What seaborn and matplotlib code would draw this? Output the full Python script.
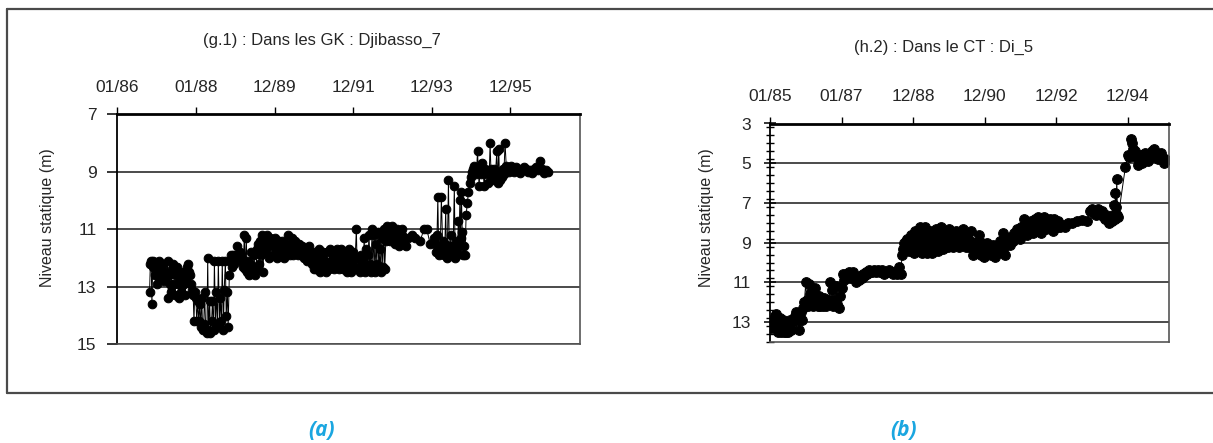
import numpy as np
import pandas as pd
import matplotlib
matplotlib.use("Agg")
import matplotlib.pyplot as plt
from matplotlib.lines import Line2D
from matplotlib.ticker import MultipleLocator
import seaborn as sns

# ---------------------------------------------------------------- data
# (g.1) Djibasso_7, GK aquifer: decimal year, static level (m)
annee_a = [
    1986.82, 1986.84, 1986.86, 1986.88, 1986.90, 1986.92, 1986.95, 1986.97, 1987.00, 1987.02,
    1987.05, 1987.07, 1987.10, 1987.12, 1987.15, 1987.17, 1987.20, 1987.22, 1987.25, 1987.28,
    1987.30, 1987.32, 1987.35, 1987.37, 1987.40, 1987.42, 1987.45, 1987.47, 1987.50, 1987.52,
    1987.55, 1987.57, 1987.60, 1987.62, 1987.65, 1987.67, 1987.70, 1987.73, 1987.75, 1987.78,
    1987.80, 1987.83, 1987.85, 1987.88, 1987.90,
    1987.93, 1987.95, 1987.97, 1988.00, 1988.02, 1988.05, 1988.07, 1988.10, 1988.12, 1988.15,
    1988.17, 1988.20, 1988.22, 1988.25, 1988.28, 1988.30, 1988.32, 1988.35, 1988.37, 1988.40,
    1988.42, 1988.45, 1988.47, 1988.50, 1988.52, 1988.55, 1988.57, 1988.60, 1988.62, 1988.65,
    1988.67, 1988.70, 1988.72, 1988.75, 1988.77, 1988.80, 1988.82, 1988.85,
    1988.87, 1988.90, 1988.92, 1988.95, 1988.97, 1989.00, 1989.02, 1989.05, 1989.07, 1989.10,
    1989.12, 1989.15, 1989.18, 1989.20, 1989.23, 1989.25, 1989.28, 1989.30, 1989.33, 1989.35,
    1989.38, 1989.40, 1989.43, 1989.45, 1989.48, 1989.50, 1989.53, 1989.55, 1989.58, 1989.60,
    1989.63, 1989.65, 1989.68, 1989.70, 1989.73, 1989.75, 1989.78, 1989.80, 1989.83, 1989.85,
    1989.88, 1989.90, 1989.93, 1989.95, 1989.98,
    1990.00, 1990.03, 1990.05, 1990.08, 1990.10, 1990.13, 1990.15, 1990.18, 1990.20, 1990.23,
    1990.25, 1990.28, 1990.30, 1990.33, 1990.35, 1990.38, 1990.40, 1990.43, 1990.45, 1990.48,
    1990.50, 1990.53, 1990.55, 1990.58, 1990.60, 1990.63, 1990.65, 1990.68, 1990.70, 1990.73,
    1990.75, 1990.78, 1990.80, 1990.83, 1990.85, 1990.88, 1990.90, 1990.93, 1990.95, 1990.98,
    1991.00, 1991.03, 1991.05, 1991.08, 1991.10, 1991.13, 1991.15, 1991.18, 1991.20, 1991.23,
    1991.25, 1991.28, 1991.30, 1991.33, 1991.35, 1991.38, 1991.40, 1991.43, 1991.45, 1991.48,
    1991.50, 1991.53, 1991.55, 1991.58, 1991.60, 1991.63, 1991.65, 1991.68, 1991.70, 1991.73,
    1991.75, 1991.78, 1991.80, 1991.83, 1991.85, 1991.88, 1991.90, 1991.93, 1991.95, 1991.98,
    1992.00, 1992.03, 1992.05, 1992.08, 1992.10, 1992.13, 1992.15, 1992.18, 1992.20, 1992.23,
    1992.25, 1992.28, 1992.30, 1992.33, 1992.35, 1992.38, 1992.40, 1992.43,
    1992.45, 1992.48, 1992.50, 1992.53, 1992.55, 1992.58, 1992.60, 1992.63, 1992.65, 1992.68,
    1992.70, 1992.73, 1992.75, 1992.78, 1992.80, 1992.83,
    1992.85, 1992.88, 1992.90, 1992.93, 1992.95, 1992.98, 1993.00, 1993.03, 1993.05, 1993.08,
    1993.10, 1993.13, 1993.15, 1993.18, 1993.20, 1993.23, 1993.25, 1993.28, 1993.30, 1993.35,
    1993.40, 1993.49, 1993.58, 1993.70, 1993.80, 1993.87, 1993.95,
    1994.05, 1994.08, 1994.10, 1994.13, 1994.15, 1994.17, 1994.19, 1994.21, 1994.24, 1994.27,
    1994.29, 1994.31, 1994.33, 1994.35, 1994.37, 1994.39, 1994.42, 1994.44, 1994.46, 1994.48,
    1994.50, 1994.52, 1994.54, 1994.57, 1994.59, 1994.61, 1994.63, 1994.65, 1994.67, 1994.69,
    1994.71, 1994.73, 1994.75, 1994.77, 1994.79, 1994.81,
    1994.84, 1994.87, 1994.90, 1994.93, 1994.96, 1994.99, 1995.02, 1995.05, 1995.08, 1995.10,
    1995.13, 1995.16, 1995.18, 1995.20, 1995.23, 1995.25, 1995.28, 1995.30, 1995.33, 1995.36,
    1995.38, 1995.41, 1995.43, 1995.46, 1995.48, 1995.50, 1995.52, 1995.55, 1995.57, 1995.60,
    1995.62, 1995.65, 1995.67, 1995.70, 1995.72, 1995.75, 1995.78, 1995.80, 1995.83, 1995.86,
    1995.89, 1995.92, 1995.96, 1996.00, 1996.05, 1996.10, 1996.15, 1996.20, 1996.25, 1996.30,
    1996.35, 1996.40, 1996.45, 1996.50, 1996.55, 1996.60, 1996.65, 1996.70, 1996.75, 1996.80,
    1996.85, 1996.90, 1996.95,
]
niveau_a = [
    13.2, 12.2, 12.1, 13.6, 12.3, 12.1, 12.2, 12.6, 12.9, 12.3,
    12.1, 12.7, 12.4, 12.2, 12.6, 12.2, 12.8, 12.5, 12.6, 12.1,
    13.4, 12.6, 12.9, 13.2, 12.4, 12.2, 12.9, 13.3, 12.6, 12.3,
    12.9, 13.4, 12.8, 13.2, 12.6, 12.5, 12.9, 13.3, 12.7, 12.3,
    12.2, 12.5, 12.6, 12.9, 13.1,
    13.3, 14.2, 13.2, 13.4, 14.2, 13.5, 14.2, 13.6, 14.4, 13.4,
    14.5, 14.3, 13.2, 14.5, 14.6, 12.0, 14.5, 13.5, 14.6, 14.2,
    13.5, 14.5, 12.1, 14.4, 13.2, 14.3, 12.1, 14.3, 13.4, 14.2,
    12.1, 14.5, 13.1, 12.1, 14.0, 13.2, 14.4, 12.6,
    12.1, 11.9, 12.3, 11.9, 12.2, 11.9, 12.0, 11.6, 11.9, 12.0,
    11.8, 12.1, 12.0, 12.3, 11.2, 12.4, 11.3, 12.5, 12.1, 12.6,
    12.2, 11.8, 12.5, 12.3, 11.9, 12.6, 12.4, 11.7, 11.5, 12.2,
    11.4, 11.9, 11.2, 12.5, 11.6, 11.3, 11.8, 11.2, 11.5, 12.0,
    11.3, 11.6, 11.4, 11.9, 11.5,
    11.3, 11.7, 12.0, 11.5, 11.4, 11.9, 11.6, 11.4, 11.8, 12.0,
    11.6, 11.5, 11.9, 11.2, 11.6, 11.9, 11.7, 11.3, 11.5, 11.9,
    11.8, 11.4, 11.5, 11.8, 11.9, 11.5, 11.7, 11.9, 11.6, 11.8,
    12.0, 11.7, 11.9, 12.1, 11.8, 11.6, 12.0, 12.1, 12.2, 11.9,
    12.4, 11.8, 12.4, 12.0, 12.3, 11.7, 12.5, 11.9, 12.2, 11.8,
    12.4, 12.1, 12.5, 11.8, 12.2, 12.4, 11.7, 12.3, 12.1, 12.0,
    12.4, 11.8, 12.2, 11.7, 12.1, 12.4, 11.9, 12.3, 11.7, 12.0,
    12.4, 11.8, 12.2, 12.5, 12.0, 12.3, 11.7, 12.2, 12.5, 12.1,
    11.8, 12.4, 12.0, 11.0, 12.3, 12.4, 12.0, 12.5, 11.9, 12.1,
    12.4, 11.3, 12.5, 11.7, 12.3, 11.9, 11.2, 12.2,
    12.5, 11.0, 12.3, 11.2, 12.5, 11.5, 12.2, 11.1, 12.4, 11.7,
    12.5, 11.3, 12.3, 11.0, 12.4, 11.4,
    10.9, 11.2, 11.0, 11.4, 11.1, 10.9, 11.3, 11.0, 11.5, 11.2,
    11.0, 11.3, 11.6, 11.1, 11.4, 11.0, 11.2, 11.5, 11.3, 11.6,
    11.3, 11.2, 11.3, 11.4, 11.0, 11.0, 11.5,
    11.3, 11.5, 11.8, 11.2, 9.9, 11.6, 11.9, 11.8, 9.9, 11.4,
    11.7, 11.9, 11.5, 10.3, 11.8, 12.0, 9.3, 11.6, 11.9, 11.2,
    11.8, 11.9, 11.6, 9.5, 12.0, 11.4, 11.7, 11.9, 10.7, 11.5,
    10.0, 11.3, 9.7, 11.1, 11.9, 11.6,
    11.9, 10.5, 10.1, 9.7, 9.4, 9.2, 9.0, 8.9, 8.8, 8.9,
    9.1, 8.3, 8.9, 9.5, 8.8, 9.1, 8.7, 9.0, 9.5, 8.9,
    9.1, 9.0, 9.4, 9.0, 8.0, 8.9, 9.3, 9.0, 8.9, 9.1,
    9.0, 8.3, 9.4, 8.2, 9.3, 9.0, 9.2, 8.9, 9.1, 8.0,
    8.8, 8.9, 9.0, 8.8, 8.9, 9.0, 8.85, 8.9, 9.05, 8.95,
    8.85, 8.9, 9.0, 8.95, 9.05, 8.9, 8.85, 8.95, 8.65, 8.9,
    9.05, 8.95, 9.0,
]

# (h.2) Di_5, CT aquifer: decimal year, static level (m)
annee_b = [
    1985.03, 1985.06, 1985.09, 1985.12, 1985.15, 1985.18, 1985.21, 1985.24, 1985.27, 1985.30,
    1985.33, 1985.36, 1985.39, 1985.42, 1985.45, 1985.48, 1985.51, 1985.54, 1985.57, 1985.60,
    1985.63, 1985.66, 1985.69, 1985.72, 1985.75, 1985.78, 1985.81, 1985.84, 1985.87, 1985.90,
    1985.93, 1985.96,
    1986.00, 1986.03, 1986.06, 1986.09, 1986.12, 1986.15, 1986.18, 1986.21, 1986.24, 1986.27,
    1986.30, 1986.33, 1986.36, 1986.40, 1986.44, 1986.48, 1986.52, 1986.56, 1986.60, 1986.64,
    1986.68, 1986.72, 1986.76, 1986.80, 1986.84, 1986.88, 1986.92, 1986.96,
    1987.00, 1987.04, 1987.08, 1987.12, 1987.16, 1987.20, 1987.24, 1987.28, 1987.32, 1987.36,
    1987.40, 1987.44, 1987.48, 1987.52, 1987.56, 1987.60, 1987.64, 1987.68, 1987.72, 1987.76,
    1987.80, 1987.84, 1987.90, 1987.96, 1988.02, 1988.08, 1988.14, 1988.20, 1988.26, 1988.32,
    1988.38, 1988.44, 1988.50, 1988.56, 1988.62, 1988.66, 1988.69, 1988.72, 1988.76, 1988.80,
    1988.84,
    1988.88, 1988.91, 1988.94, 1988.97, 1989.00, 1989.03, 1989.06, 1989.09, 1989.12, 1989.15,
    1989.18, 1989.21, 1989.24, 1989.27, 1989.30, 1989.33, 1989.36, 1989.39, 1989.42, 1989.45,
    1989.48, 1989.51, 1989.54, 1989.57, 1989.60, 1989.63, 1989.66, 1989.69, 1989.72, 1989.75,
    1989.78, 1989.81, 1989.84, 1989.87, 1989.90, 1989.93, 1989.96, 1989.99, 1990.02, 1990.05,
    1990.08, 1990.11, 1990.14, 1990.17, 1990.20, 1990.23, 1990.26, 1990.29, 1990.32, 1990.35,
    1990.38, 1990.41, 1990.44, 1990.47, 1990.50, 1990.53, 1990.56, 1990.59, 1990.62, 1990.65,
    1990.68, 1990.71, 1990.74, 1990.77, 1990.80, 1990.83, 1990.86, 1990.89, 1990.92, 1990.95,
    1990.98, 1991.02, 1991.06, 1991.10, 1991.14, 1991.18, 1991.22, 1991.26, 1991.30, 1991.34,
    1991.38, 1991.42, 1991.46, 1991.50, 1991.54, 1991.58, 1991.62, 1991.66, 1991.70, 1991.74,
    1991.78, 1991.82, 1991.86, 1991.90, 1991.94, 1991.98, 1992.02, 1992.06, 1992.10, 1992.14,
    1992.18, 1992.22, 1992.26, 1992.30, 1992.34, 1992.38, 1992.42, 1992.46, 1992.50, 1992.54,
    1992.58, 1992.62, 1992.66, 1992.70, 1992.74, 1992.78, 1992.82, 1992.86, 1992.90, 1992.94,
    1992.98, 1993.02, 1993.06, 1993.10, 1993.16, 1993.24, 1993.32, 1993.45, 1993.58, 1993.72,
    1993.85, 1993.95, 1994.00, 1994.04, 1994.08, 1994.12, 1994.16, 1994.20, 1994.24, 1994.28,
    1994.32, 1994.36, 1994.40, 1994.44, 1994.48, 1994.52, 1994.56, 1994.59, 1994.61, 1994.63,
    1994.65, 1994.67, 1994.69, 1994.71, 1994.73, 1994.93,
    1995.00, 1995.04, 1995.08, 1995.11, 1995.14, 1995.17, 1995.20, 1995.24, 1995.28, 1995.32,
    1995.36, 1995.40, 1995.44, 1995.48, 1995.52, 1995.56, 1995.60, 1995.64, 1995.68, 1995.72,
    1995.76, 1995.80, 1995.84, 1995.88, 1995.92, 1995.96, 1996.00, 1996.04, 1996.08,
]
niveau_b = [
    13.3, 13.1, 12.9, 13.2, 12.7, 12.6, 13.5, 13.4, 12.8, 13.5,
    13.0, 12.9, 13.5, 13.3, 13.5, 13.2, 13.5, 13.1, 12.9, 13.4,
    13.0, 12.8, 12.7, 12.5, 12.6, 12.8, 13.4, 12.9, 12.5, 12.9,
    12.3, 12.0,
    11.0, 11.9, 12.2, 11.1, 11.6, 12.0, 11.4, 12.2, 11.8, 11.3,
    12.0, 12.2, 11.7, 12.2, 12.0, 12.2, 11.8, 12.2, 12.0, 11.9,
    11.0, 11.4, 12.2, 11.9, 11.2, 12.1, 12.3, 11.7,
    11.3, 10.6, 10.9, 10.6, 10.7, 10.5, 10.8, 10.6, 10.5, 10.7,
    11.0, 10.8, 10.9, 10.7, 10.8, 10.6, 10.7, 10.5, 10.6, 10.4,
    10.5, 10.5, 10.4, 10.5, 10.4, 10.5, 10.4, 10.6, 10.5, 10.4,
    10.5, 10.6, 10.5, 10.6, 10.2, 10.6, 9.6, 9.3, 9.0, 8.9,
    8.8,
    9.4, 9.0, 8.6, 9.2, 8.9, 9.5, 8.4, 9.1, 8.7, 9.4,
    8.2, 9.0, 9.5, 8.6, 9.2, 8.2, 8.9, 9.5, 8.7, 9.3,
    8.4, 9.0, 9.5, 8.6, 9.2, 8.3, 8.9, 9.4, 8.5, 9.1,
    8.2, 8.8, 9.3, 8.4, 9.0, 8.6, 9.2, 8.3, 8.8, 9.1,
    8.5, 9.2, 8.7, 9.0, 8.4, 9.1, 8.8, 9.2, 8.6, 9.0,
    8.3, 9.1, 8.8, 9.2, 8.7, 9.0, 9.2, 8.9, 8.4, 9.1,
    9.6, 9.2, 9.0, 9.3, 9.1, 8.6, 9.3, 9.6, 9.0, 9.4,
    9.7, 9.2, 9.0, 9.5, 9.3, 9.6, 9.1, 9.4, 9.7, 9.2,
    9.5, 8.9, 9.3, 8.5, 9.2, 9.6, 9.0, 8.8, 9.1, 8.7,
    8.9, 8.5, 8.7, 8.3, 8.6, 8.8, 8.2, 8.5, 7.8, 8.3,
    8.6, 8.1, 8.4, 7.9, 8.5, 8.2, 7.8, 8.4, 7.7, 8.1,
    8.5, 8.0, 7.7, 8.3, 7.9, 8.2, 7.8, 8.1, 8.4, 7.8,
    8.0, 8.2, 7.9, 8.2, 8.1, 8.2, 8.0, 8.0, 7.9, 7.85,
    7.9, 7.4, 7.3, 7.5, 7.4, 7.6, 7.3, 7.5, 7.6, 7.4,
    7.7, 7.8, 7.6, 7.9, 8.0, 7.7, 7.9, 7.6, 7.1, 7.8,
    6.5, 7.2, 5.8, 7.6, 7.7, 5.2,
    4.6, 4.7, 3.8, 4.0, 4.3, 4.6, 4.4, 4.7, 5.1, 4.8,
    4.6, 5.0, 4.7, 4.5, 4.8, 4.9, 4.6, 4.7, 4.4, 4.3,
    4.5, 4.6, 4.8, 4.6, 4.5, 4.7, 5.0, 4.8, 4.85,
]

titre_a = "(g.1) : Dans les GK : Djibasso_7"
titre_b = "(h.2) : Dans le CT : Di_5"
label_y = "Niveau statique (m)"

ticks_dates_a = ["1986-01-01", "1988-01-01", "1989-12-31", "1991-12-31", "1993-12-30", "1995-12-30"]
ticks_labels_a = ["01/86", "01/88", "12/89", "12/91", "12/93", "12/95"]
ticks_dates_b = ["1985-01-01", "1987-01-01", "1988-12-31", "1990-12-31", "1992-12-30", "1994-12-30"]
ticks_labels_b = ["01/85", "01/87", "12/88", "12/90", "12/92", "12/94"]
xlim_a = ("1986-01-01", "1997-10-10")
xlim_b = ("1985-01-01", "1996-02-25")
yticks_a = [7, 9, 11, 13, 15]
yticks_b = [3, 5, 7, 9, 11, 13]


def decimal_to_date(years):
    years = np.asarray(years, dtype=float)
    whole = np.floor(years).astype(int)
    start = pd.to_datetime([f"{y}-01-01" for y in whole])
    return start + pd.to_timedelta((years - whole) * 365.25, unit="D")


df_a = pd.DataFrame({"date": decimal_to_date(annee_a), "niveau": niveau_a})
df_b = pd.DataFrame({"date": decimal_to_date(annee_b), "niveau": niveau_b})

# ---------------------------------------------------------------- figure
sns.set_theme(style="white")
plt.rcParams["font.family"] = ["Liberation Sans", "DejaVu Sans"]
TXT = "#262626"

W, H = 1213, 443
fig = plt.figure(figsize=(W / 100, H / 100), dpi=100)
fig.patch.set_facecolor("white")


def px_box(x0, y0, x1, y1):
    return [x0 / W, 1 - y1 / H, (x1 - x0) / W, (y1 - y0) / H]


ax_a = fig.add_axes(px_box(117.3, 114, 580.3, 344.3))
ax_b = fig.add_axes(px_box(770, 123.5, 1169, 342))


def style_axis(ax, df, tdates, tlabels, xlim, yticks, ylim, ms, minor):
    sns.lineplot(data=df, x="date", y="niveau", sort=False, estimator=None,
                 color="black", linewidth=0.7, marker="o", markersize=ms,
                 markerfacecolor="black", markeredgecolor="black", ax=ax)
    ax.set_xlim(pd.to_datetime(xlim[0]), pd.to_datetime(xlim[1]))
    ax.set_ylim(*ylim)
    ax.xaxis.tick_top()
    ax.set_xticks(pd.to_datetime(tdates))
    ax.set_xticklabels(tlabels)
    ax.set_yticks(yticks)
    ax.set_yticklabels([str(v) for v in yticks])
    ax.set_xlabel("")
    ax.set_ylabel("")
    ax.grid(False)
    ax.yaxis.grid(True, color="#1a1a1a", linewidth=1.1)
    for side in ["left", "top"]:
        ax.spines[side].set_color("black")
    ax.spines["top"].set_linewidth(2.0)
    ax.spines["left"].set_linewidth(1.3)
    for side in ["right", "bottom"]:
        ax.spines[side].set_color("#555555")
        ax.spines[side].set_linewidth(1.2)
    ax.tick_params(axis="x", which="major", top=True, bottom=False, direction="out",
                   length=5, width=1, color="black", pad=9,
                   labelsize=12.5, labelcolor=TXT)
    if minor:
        ax.yaxis.set_minor_locator(MultipleLocator(0.4))
        ax.tick_params(axis="y", which="major", left=True, direction="inout",
                       length=9, width=1.1, color="black", pad=9,
                       labelsize=12.5, labelcolor=TXT)
        ax.tick_params(axis="y", which="minor", left=True, direction="inout",
                       length=6, width=1, color="black")
    else:
        ax.tick_params(axis="y", which="major", left=True, direction="out",
                       length=7, width=1.1, color="black", pad=8,
                       labelsize=12.5, labelcolor=TXT)


style_axis(ax_a, df_a, ticks_dates_a, ticks_labels_a, xlim_a, yticks_a, (15, 7), 6.2, False)
style_axis(ax_b, df_b, ticks_dates_b, ticks_labels_b, xlim_b, yticks_b, (14, 3), 7.0, True)

# titles and axis labels
fig.text(322 / W, 1 - 40 / H, titre_a, ha="center", va="center", fontsize=12, color=TXT)
fig.text(944 / W, 1 - 47 / H, titre_b, ha="center", va="center", fontsize=12, color=TXT)
fig.text(48 / W, 1 - 218 / H, label_y, ha="center", va="center", rotation=90,
         fontsize=11.5, color=TXT)
fig.text(707 / W, 1 - 218 / H, label_y, ha="center", va="center", rotation=90,
         fontsize=11.5, color=TXT)

# panel captions
for xc, lab in [(322, "(a)"), (904, "(b)")]:
    fig.text(xc / W, 1 - 430 / H, lab, ha="center", va="center", fontsize=15,
             fontweight="bold", fontstyle="italic", color="#1aa6e0",
             family=["Open Sans", "DejaVu Sans"])

# outer frame around both panels
frame_kw = dict(color="#4a4a4a", linewidth=1.6, transform=fig.transFigure)
fig.add_artist(Line2D([7 / W, 7 / W], [1 - 9 / H, 1 - 393 / H], **frame_kw))
fig.add_artist(Line2D([7 / W, 1.0], [1 - 9 / H, 1 - 9 / H], **frame_kw))
fig.add_artist(Line2D([7 / W, 1.0], [1 - 393 / H, 1 - 393 / H], **frame_kw))

fig.savefig("out.png", dpi=100, facecolor="white")
